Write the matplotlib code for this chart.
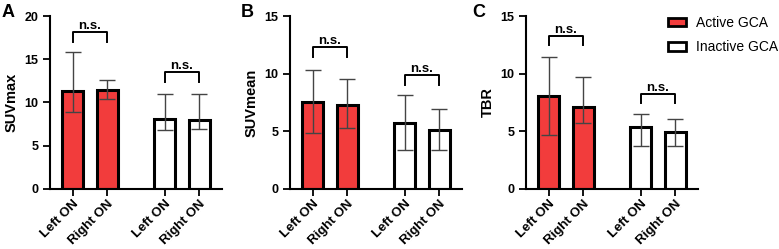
import matplotlib.pyplot as plt
import matplotlib.transforms as mtransforms
import numpy as np
from matplotlib.patches import Patch

plt.rcParams['font.family'] = ['Liberation Sans', 'DejaVu Sans']
plt.rcParams['font.weight'] = 'bold'

# categories
tick_labels = ['Left ON', 'Right ON', 'Left ON', 'Right ON']
legend_labels = ['Active GCA', 'Inactive GCA']
panel_letters = ['A', 'B', 'C']
y_titles = ['SUVmax', 'SUVmean', 'TBR']
y_limits = [20, 15, 15]

# bar heights (Active left/right, Inactive left/right)
suvmax = [11.35, 11.4, 8.1, 7.95]
suvmean = [7.5, 7.3, 5.72, 5.06]
tbr = [8.1, 7.1, 5.35, 4.97]

# error bar ends
suvmax_lo = [8.95, 10.4, 6.85, 6.9]
suvmax_hi = [15.85, 12.6, 11.0, 11.0]
suvmean_lo = [4.82, 5.26, 3.36, 3.36]
suvmean_hi = [10.35, 9.56, 8.16, 6.9]
tbr_lo = [4.65, 5.7, 3.71, 3.71]
tbr_hi = [11.46, 9.71, 6.49, 6.08]

# significance brackets: (top, foot) for active and inactive pairs
suvmax_brackets = [(18.2, 17.0), (13.5, 12.4)]
suvmean_brackets = [(12.3, 11.45), (9.9, 9.05)]
tbr_brackets = [(13.3, 12.5), (8.25, 7.45)]

panels = [
    (suvmax, suvmax_lo, suvmax_hi, suvmax_brackets),
    (suvmean, suvmean_lo, suvmean_hi, suvmean_brackets),
    (tbr, tbr_lo, tbr_hi, tbr_brackets),
]

red = '#f23c3c'
fills = [red, red, 'white', 'white']
x = np.array([0, 1, 2.67, 3.67])

fig = plt.figure(figsize=(7.79, 2.49), dpi=100)
lefts = [50, 290, 526]
# nudge rotated tick labels a little to the right like the original
shift = mtransforms.ScaledTranslation(3 / 100, 0, fig.dpi_scale_trans)

for i, (vals, lo, hi, brackets) in enumerate(panels):
    ax = fig.add_axes([lefts[i] / 779, 60.5 / 249, 172 / 779, 172 / 249])
    vals = np.array(vals)
    yerr = [vals - np.array(lo), np.array(hi) - vals]
    ax.bar(x, vals, width=0.62, color=fills, edgecolor='black',
           linewidth=2.2, zorder=2)
    ax.errorbar(x, vals, yerr=yerr, fmt='none', ecolor='#444444',
                elinewidth=1.0, capsize=6, capthick=1.0, zorder=3)

    for (top, foot), (a, b) in zip(brackets, [(0, 1), (2, 3)]):
        ax.plot([x[a], x[a], x[b], x[b]], [foot, top, top, foot],
                color='black', lw=1.4, zorder=4, clip_on=False)
        ax.text((x[a] + x[b]) / 2, top, 'n.s.', ha='center', va='bottom',
                fontsize=9.5, fontweight='bold')

    ax.set_xlim(-0.66, 4.33)
    ax.set_ylim(0, y_limits[i])
    ax.set_yticks(np.arange(0, y_limits[i] + 1, 5))
    ax.set_xticks(x)
    ax.set_xticklabels(tick_labels, rotation=45, ha='right',
                       rotation_mode='anchor', fontsize=9.5, fontweight='bold')
    for t in ax.get_xticklabels():
        t.set_transform(t.get_transform() + shift)
    ax.tick_params(axis='both', width=1.3, length=5, labelsize=9)
    ax.tick_params(axis='x', labelsize=9.5, pad=2)
    for t in ax.get_yticklabels():
        t.set_fontweight('bold')
    ax.spines['top'].set_visible(False)
    ax.spines['right'].set_visible(False)
    ax.spines['left'].set_linewidth(1.5)
    ax.spines['bottom'].set_linewidth(1.5)
    ax.set_ylabel(y_titles[i], fontsize=10.5, fontweight='bold')

fig.text(0.002, 0.985, panel_letters[0], fontsize=13, fontweight='bold', va='top')
fig.text(241 / 779, 0.985, panel_letters[1], fontsize=13, fontweight='bold', va='top')
fig.text(472 / 779, 0.985, panel_letters[2], fontsize=13, fontweight='bold', va='top')

handles = [Patch(facecolor=red, edgecolor='black', linewidth=2),
           Patch(facecolor='white', edgecolor='black', linewidth=2)]
leg = fig.legend(handles, legend_labels, loc='upper left',
                 bbox_to_anchor=(658 / 779, 0.975), frameon=False,
                 prop={'size': 10, 'weight': 'normal'},
                 handlelength=1.3, handleheight=0.55, labelspacing=0.75,
                 handletextpad=0.75, borderaxespad=0.3)

fig.savefig('out.png', dpi=100)
